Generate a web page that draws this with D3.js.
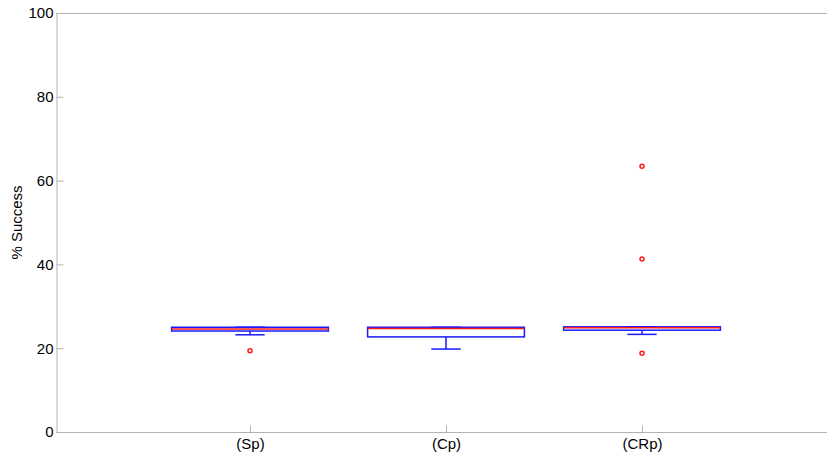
<!DOCTYPE html>
<html>
<head>
<meta charset="utf-8">
<script src="https://cdn.jsdelivr.net/npm/d3@7"></script>
<style>
  html, body { margin: 0; padding: 0; background: #fff; }
  svg { display: block; font-family: "Liberation Sans", Arial, sans-serif; }
</style>
</head>
<body>
<svg id="chart" width="827" height="454"></svg>
<script>
// Box-plot summary per method
const categories = ["(Sp)", "(Cp)", "(CRp)"];
const q1 = [24.1, 22.7, 24.3];
const medians = [24.6, 24.7, 24.9];
const q3 = [25.0, 25.0, 25.1];
const whiskerLow = [23.2, 19.8, 23.3];
const whiskerHigh = [25.0, 25.0, 25.1];
const outliers = [[19.4], [], [18.8, 41.3, 63.4]];
const yTicks = [0, 20, 40, 60, 80, 100];

const svg = d3.select("#chart");
const plotLeft = 56, plotRight = 827, plotTop = 13, plotBottom = 432;

const x = d3.scaleLinear().domain([0, 4]).range([54, 838]);
const y = d3.scaleLinear().domain([0, 100]).range([plotBottom, plotTop]);
const halfW = 0.4, capW = 0.075;

const axisColor = "#b3b3b3";

// frame: top, left and bottom lines
svg.append("line").attr("x1", plotLeft).attr("x2", plotRight).attr("y1", plotTop + 0.5).attr("y2", plotTop + 0.5)
  .attr("stroke", axisColor).attr("stroke-width", 1);

const yAxis = svg.append("g").attr("transform", `translate(${plotLeft + 0.5},0)`)
  .call(d3.axisLeft(y).tickValues(yTicks).tickSize(-7).tickPadding(10).tickFormat(d3.format("d")));
yAxis.select(".domain").attr("stroke", axisColor);
yAxis.selectAll(".tick line").attr("stroke", axisColor);
yAxis.selectAll(".tick text").attr("font-size", 15).attr("fill", "#000")
  .attr("font-family", "Liberation Sans, Arial, sans-serif").attr("dx", 7);

const xAxis = svg.append("g").attr("transform", `translate(0,${plotBottom + 0.5})`)
  .call(d3.axisBottom(x).tickValues([1, 2, 3]).tickSize(-7).tickPadding(6)
    .tickFormat((d, i) => categories[i]));
xAxis.select(".domain").attr("d", `M${plotLeft},0H${plotRight}`).attr("stroke", axisColor);
xAxis.selectAll(".tick line").attr("stroke", axisColor);
xAxis.selectAll(".tick text").attr("font-size", 15).attr("fill", "#000")
  .attr("font-family", "Liberation Sans, Arial, sans-serif").attr("dy", "0.71em");

svg.append("text")
  .attr("transform", `translate(22,${(plotTop + plotBottom) / 2}) rotate(-90)`)
  .attr("text-anchor", "middle")
  .attr("font-size", 15).attr("fill", "#000")
  .text("% Success");

const blue = "#1a1aff", red = "#ff1a1a";
const g = svg.append("g");

categories.forEach((c, i) => {
  const cx = x(i + 1);
  const bx = g.append("g");
  // whiskers
  bx.append("line").attr("x1", cx).attr("x2", cx).attr("y1", y(q1[i])).attr("y2", y(whiskerLow[i]))
    .attr("stroke", blue).attr("stroke-width", 1.5);
  bx.append("line").attr("x1", cx).attr("x2", cx).attr("y1", y(q3[i])).attr("y2", y(whiskerHigh[i]))
    .attr("stroke", blue).attr("stroke-width", 1.5);
  bx.append("line").attr("x1", x(i + 1 - capW)).attr("x2", x(i + 1 + capW))
    .attr("y1", y(whiskerLow[i])).attr("y2", y(whiskerLow[i]))
    .attr("stroke", blue).attr("stroke-width", 1.5);
  bx.append("line").attr("x1", x(i + 1 - capW)).attr("x2", x(i + 1 + capW))
    .attr("y1", y(whiskerHigh[i])).attr("y2", y(whiskerHigh[i]))
    .attr("stroke", blue).attr("stroke-width", 1.5);
  // box
  bx.append("rect")
    .attr("x", x(i + 1 - halfW)).attr("width", x(i + 1 + halfW) - x(i + 1 - halfW))
    .attr("y", y(q3[i])).attr("height", y(q1[i]) - y(q3[i]))
    .attr("fill", "none").attr("stroke", blue).attr("stroke-width", 1.5);
  // median
  bx.append("line").attr("x1", x(i + 1 - halfW)).attr("x2", x(i + 1 + halfW))
    .attr("y1", y(medians[i])).attr("y2", y(medians[i]))
    .attr("stroke", red).attr("stroke-width", 1.5);
  // outliers
  bx.selectAll("circle").data(outliers[i]).join("circle")
    .attr("cx", cx).attr("cy", d => y(d)).attr("r", 2)
    .attr("fill", "#fff").attr("stroke", red).attr("stroke-width", 1.5);
});
</script>
</body>
</html>
